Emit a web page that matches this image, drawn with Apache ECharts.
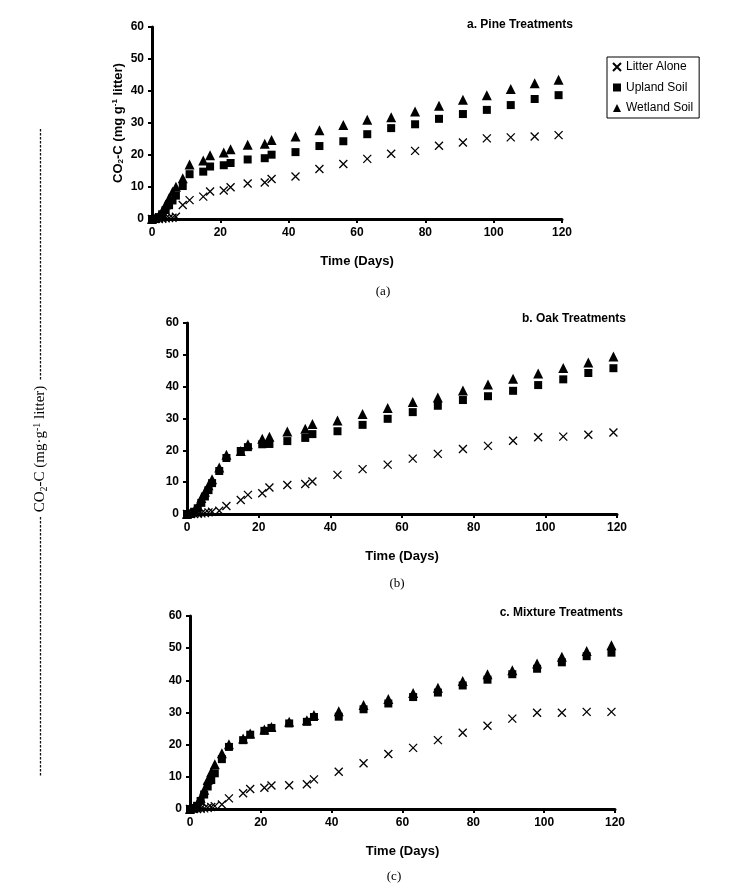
<!DOCTYPE html>
<html>
<head>
<meta charset="utf-8">
<script src="https://cdn.jsdelivr.net/npm/echarts@6/dist/echarts.min.js"></script>
<style>html,body{margin:0;padding:0;background:#fff}#c{width:754px;height:893px}</style>
</head>
<body>
<div id="c"></div>
<script>
var days = [0,1,2,3,4,5,6,7,9,11,15,17,21,23,28,33,35,42,49,56,63,70,77,84,91,98,105,112,119];
var xTicks = [0,20,40,60,80,100,120];
var yTicks = [0,10,20,30,40,50,60];
var seriesNames = ['Litter Alone','Upland Soil','Wetland Soil'];
var panelTitles = ['a. Pine Treatments','b. Oak Treatments','c. Mixture Treatments'];
var captions = ['(a)','(b)','(c)'];

var pineLitter  = [0,0,0,0.1,0.2,0.3,0.4,0.7,4.4,5.9,7.0,8.6,8.9,9.9,11.1,11.4,12.5,13.3,15.6,17.2,18.8,20.4,21.3,22.9,23.9,25.2,25.5,25.8,26.2];
var pineUpland  = [0,0.2,0.6,1.5,2.8,4.3,5.8,7.3,10.3,14.0,14.8,16.4,16.8,17.5,18.6,19.0,20.1,20.9,22.8,24.3,26.5,28.4,29.6,31.3,32.8,34.1,35.6,37.5,38.7];
var pineWetland = [0,0.3,1.0,2.5,4.5,6.5,8.5,10.1,12.7,17.0,18.3,19.9,20.8,21.8,23.2,23.5,24.7,25.8,27.7,29.4,31.0,31.8,33.6,35.4,37.3,38.7,40.6,42.4,43.5];

var oakLitter  = [0,0,0,0.1,0.2,0.3,0.5,0.7,1.0,2.5,4.4,6.0,6.5,8.3,9.1,9.4,10.2,12.3,14.1,15.5,17.4,18.9,20.4,21.4,23.0,24.1,24.3,24.9,25.6];
var oakUpland  = [0,0.2,0.7,1.8,3.5,5.5,7.5,9.7,13.5,17.6,19.8,21.0,21.9,22.0,22.9,23.9,25.1,26.0,28.0,29.9,32.0,34.0,35.8,37.0,38.7,40.5,42.3,44.3,45.8];
var oakWetland = [0,0.3,1.0,2.5,5.0,7.0,9.0,10.9,14.6,18.6,19.8,21.9,23.6,24.3,25.9,26.8,28.3,29.4,31.4,33.3,35.2,36.6,38.8,40.7,42.5,44.1,45.9,47.6,49.5];

var mixLitter  = [0,0,0,0.1,0.2,0.4,0.6,0.9,1.4,3.3,4.9,6.2,6.6,7.3,7.4,7.7,9.2,11.6,14.2,17.1,19.0,21.4,23.7,25.9,28.1,29.9,29.9,30.2,30.2];
var mixUpland  = [0,0.3,1.0,2.5,4.5,7.0,9.0,11.1,15.5,19.3,21.4,23.1,24.3,25.2,26.6,27.1,28.6,28.7,31.0,32.8,34.8,36.2,38.4,40.2,41.9,43.6,45.6,47.5,48.6];
var mixWetland = [0,0.4,1.5,3.5,6.0,9.0,11.5,13.9,17.3,20.1,21.9,23.5,24.7,25.5,27.1,27.6,29.2,30.4,32.3,34.2,36.1,37.7,39.8,41.9,43.1,45.2,47.3,49.1,50.9];

var panels = [[pineLitter,pineUpland,pineWetland],[oakLitter,oakUpland,oakWetland],[mixLitter,mixUpland,mixWetland]];

var SANS = '"Liberation Sans", Arial, sans-serif';
var SERIF = '"Liberation Serif", "Times New Roman", serif';
var grids = [
  {left:152, top:27, width:410, height:192},
  {left:187, top:323, width:430, height:191},
  {left:190, top:616, width:425, height:193}
];
var crossPath = 'path://M0,0L10,10M10,0L0,10';
var symbols = [crossPath,'rect','triangle'];
var sizes = [8,8,10];

function pairs(vals){ return days.map(function(d,i){ return [d, vals[i]]; }); }

var xAxes = [], yAxes = [], series = [], titles = [];
grids.forEach(function(g, gi){
  xAxes.push({
    gridIndex: gi, type:'value', min: xTicks[0], max: xTicks[xTicks.length-1], interval: xTicks[1]-xTicks[0],
    name:'Time (Days)', nameLocation:'middle', nameGap:36, nameMoveOverlap:false,
    nameTextStyle:{fontFamily:SANS, fontWeight:'bold', fontSize:13, color:'#000'},
    axisLine:{show:true, onZero:false, lineStyle:{color:'#000', width:3}},
    axisTick:{show:true, length:4, lineStyle:{color:'#000', width:2}},
    axisLabel:{fontFamily:SANS, fontWeight:'bold', fontSize:12, color:'#000', margin:8},
    splitLine:{show:false}
  });
  var ya = {
    gridIndex: gi, type:'value', min: yTicks[0], max: yTicks[yTicks.length-1], interval: yTicks[1]-yTicks[0],
    axisLine:{show:true, onZero:false, lineStyle:{color:'#000', width:3}},
    axisTick:{show:true, length:4, lineStyle:{color:'#000', width:2}},
    axisLabel:{fontFamily:SANS, fontWeight:'bold', fontSize:12, color:'#000', margin:8},
    splitLine:{show:false}
  };
  if (gi === 0) {
    ya.name = 'CO{sub|2}-C (mg g{sup|-1} litter)';
    ya.nameLocation = 'middle';
    ya.nameGap = 27;
    ya.nameMoveOverlap = false;
    ya.nameTextStyle = {fontFamily:SANS, fontWeight:'bold', fontSize:13, color:'#000',
      rich:{sub:{fontFamily:SANS, fontWeight:'bold', fontSize:8, color:'#000', verticalAlign:'bottom', padding:[6,0,0,0]},
            sup:{fontFamily:SANS, fontWeight:'bold', fontSize:8, color:'#000', verticalAlign:'top', padding:[0,0,6,0]}}};
  }
  yAxes.push(ya);
  panels[gi].forEach(function(vals, si){
    var isCross = si === 0;
    series.push({
      name: seriesNames[si], type:'scatter', xAxisIndex:gi, yAxisIndex:gi,
      symbol: symbols[si], symbolSize: sizes[si],
      itemStyle: isCross ? {color:'rgba(0,0,0,0)', borderColor:'#000', borderWidth:1.3, opacity:1} : {color:'#000', opacity:1},
      emphasis:{disabled:true},
      data: pairs(vals)
    });
  });
});

titles = [
  {text:panelTitles[0], right:181, top:19},
  {text:panelTitles[1], right:128, top:313},
  {text:panelTitles[2], right:131, top:607}
].map(function(t){ t.textStyle = {fontFamily:SANS, fontWeight:'bold', fontSize:12, color:'#000'}; t.padding = 0; return t; });

var capPos = [[383,292],[397,584],[394,877]];
var graphics = capPos.map(function(p, i){
  return {type:'text', x:p[0], y:p[1], style:{text:captions[i], font:'13px ' + SERIF, fill:'#000', textAlign:'center', textVerticalAlign:'middle'}};
});
graphics.push({type:'line', shape:{x1:40.5, y1:129, x2:40.5, y2:381}, style:{stroke:'#111', lineWidth:1.3, lineDash:[2.5,1.5]}});
graphics.push({type:'line', shape:{x1:40.5, y1:517, x2:40.5, y2:777}, style:{stroke:'#111', lineWidth:1.3, lineDash:[2.5,1.5]}});
graphics.push({type:'text', x:40.5, y:449, rotation:Math.PI/2,
  style:{text:'CO{sub|2}-C (mg·g{sup|-1} litter)', font:'15px ' + SERIF, fill:'#000', textAlign:'center', textVerticalAlign:'middle',
    rich:{sub:{font:'10px ' + SERIF, fill:'#000', verticalAlign:'bottom', padding:[7,0,0,0]},
          sup:{font:'10px ' + SERIF, fill:'#000', verticalAlign:'top', padding:[0,0,7,0]}}}});

var chart = echarts.init(document.getElementById('c'), null, {renderer:'canvas'});
chart.setOption({
  backgroundColor:'#fff',
  animation:false,
  title: titles,
  legend:{
    data: seriesNames, left:607, top:57, orient:'vertical',
    borderColor:'#000', borderWidth:1, padding:[4,6,4,5], itemGap:8.5,
    itemWidth:8, itemHeight:8,
    textStyle:{fontFamily:SANS, fontSize:12, color:'#000'},
    selectedMode:false
  },
  grid: grids,
  xAxis: xAxes,
  yAxis: yAxes,
  series: series,
  graphic: graphics
});
</script>
</body>
</html>
